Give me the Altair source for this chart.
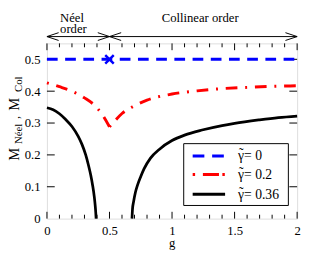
import altair as alt
import pandas as pd

# ---------------- data ----------------
g_blue = [0.0, 2.0]
m_blue = [0.5, 0.5]
g_cross = [0.5]
m_cross = [0.5]

g_red_left = [0.0, 0.1, 0.2, 0.3, 0.4, 0.45, 0.5]
m_red_left = [0.426, 0.414, 0.400, 0.379, 0.348, 0.322, 0.288]
g_red_right = [0.5, 0.55, 0.6, 0.7, 0.8, 1.0, 1.2, 1.4, 1.6, 1.8, 2.0]
m_red_right = [0.288, 0.310, 0.330, 0.354, 0.372, 0.391, 0.401, 0.408, 0.412, 0.415, 0.417]

g_blk_left = [0.0, 0.05, 0.1, 0.15, 0.2, 0.25, 0.28, 0.31, 0.333, 0.35, 0.365, 0.378, 0.386, 0.39, 0.393]
m_blk_left = [0.348, 0.342, 0.329, 0.311, 0.289, 0.258, 0.233, 0.200, 0.166, 0.137, 0.105, 0.070, 0.040, 0.020, 0.0]
g_blk_right = [0.68, 0.684, 0.693, 0.707, 0.724, 0.75, 0.776, 0.828, 0.9, 1.0, 1.1, 1.24, 1.4, 1.5, 1.7, 1.85, 2.0]
m_blk_right = [0.0, 0.030, 0.054, 0.082, 0.105, 0.132, 0.156, 0.190, 0.218, 0.245, 0.262, 0.278, 0.292, 0.299, 0.310, 0.317, 0.322]

legend_labels = ["\u03b3= 0", "\u03b3= 0.2", "\u03b3= 0.36"]
legend_colors = ["#0000ff", "#ff0000", "#000000"]

x_major = [0, 0.5, 1, 1.5, 2]
x_minor = [0.1, 0.2, 0.3, 0.4, 0.6, 0.7, 0.8, 0.9, 1.1, 1.2, 1.3, 1.4, 1.6, 1.7, 1.8, 1.9]
y_major = [0.1, 0.2, 0.3, 0.4, 0.5]
y_labels = [0, 0.1, 0.2, 0.3, 0.4, 0.5]

arrow_left_tips = [0.0, 0.5]
arrow_right_tips = [0.5, 2.0]
arrow_span = [0.0, 2.0]

FONT = "Liberation Serif"
W, H = 257, 180

xs = alt.Scale(domain=[0, 2], nice=False, zero=False)
ys = alt.Scale(domain=[0, 0.55], nice=False, zero=False)
xaxis = alt.Axis(values=x_major, format="~g", title=None, domain=False, ticks=False,
                 grid=False, labelFont=FONT, labelFontSize=13, labelColor="black",
                 labelPadding=6, labelFlush=False)
yaxis = alt.Axis(values=y_labels, format="~g", title=None, domain=False, ticks=False,
                 grid=False, labelFont=FONT, labelFontSize=13, labelColor="black",
                 labelPadding=7)


def X(f="g"):
    return alt.X(f"{f}:Q", scale=xs, axis=xaxis)


def Y(f="m"):
    return alt.Y(f"{f}:Q", scale=ys, axis=yaxis)


def df(g, m):
    return pd.DataFrame({"g": g, "m": m})


def line(g, m, color, width, dash=None, offset=None):
    kw = dict(color=color, strokeWidth=width, interpolate="monotone")
    if dash is not None:
        kw["strokeDash"] = dash
    if offset is not None:
        kw["strokeDashOffset"] = offset
    return alt.Chart(df(g, m)).mark_line(**kw).encode(x=X(), y=Y())


layers = []

# inward ticks
tx_major = pd.DataFrame({"g": x_major})
tx_minor = pd.DataFrame({"g": x_minor})
ty_major = pd.DataFrame({"m": y_major})
for d, ln in ((tx_major, 7), (tx_minor, 4)):
    layers.append(alt.Chart(d).mark_rule(color="black", strokeWidth=1).encode(
        x=X(), y=alt.value(H), y2=alt.value(H - ln)))
    layers.append(alt.Chart(d).mark_rule(color="black", strokeWidth=1).encode(
        x=X(), y=alt.value(0), y2=alt.value(ln)))
layers.append(alt.Chart(ty_major).mark_rule(color="black", strokeWidth=1).encode(
    y=Y(), x=alt.value(0), x2=alt.value(8)))
layers.append(alt.Chart(ty_major).mark_rule(color="black", strokeWidth=1).encode(
    y=Y(), x=alt.value(W), x2=alt.value(W - 8)))

# data curves
layers.append(alt.Chart(df(g_blue, m_blue)).mark_line(
    color="#0000ff", strokeWidth=3, strokeDash=[11, 7.7]).encode(x=X(), y=Y()))
layers.append(alt.Chart(df(g_cross, m_cross)).mark_point(
    shape="M-1,-1L1,1M-1,1L1,-1", size=76, filled=False, color="#0000ff",
    strokeWidth=2.5, opacity=1).encode(x=X(), y=Y()))
layers.append(line(g_red_left, m_red_left, "#ff0000", 3, [12, 8, 2, 8], 20))
layers.append(line(g_red_right, m_red_right, "#ff0000", 3, [12, 8, 2, 8], 20))
layers.append(line(g_blk_left, m_blk_left, "black", 2.8))
layers.append(line(g_blk_right, m_blk_right, "black", 2.8))

# legend box
one = pd.DataFrame({"a": [0]})
layers.append(alt.Chart(one).mark_rect(fill="white", stroke="black", strokeWidth=1).encode(
    x=alt.value(140.5), x2=alt.value(248), y=alt.value(103), y2=alt.value(166.5)))
leg_y = [115.7, 134.7, 155]
leg_dash = [[12, 8], [2.5, 8, 16.5, 3.5], None]
LX = 196.3
for lab, col, yy, dsh in zip(legend_labels, legend_colors, leg_y, leg_dash):
    kw = dict(color=col, strokeWidth=3)
    if dsh is not None:
        kw["strokeDash"] = dsh
    layers.append(alt.Chart(one).mark_rule(**kw).encode(
        x=alt.value(149.7), x2=alt.value(183), y=alt.value(yy)))
    layers.append(alt.Chart(one).mark_text(
        text=lab, font=FONT, fontSize=14, align="left", baseline="alphabetic", color="black").encode(
        x=alt.value(LX), y=alt.value(yy + 4.5)))
    # tilde accent over the gamma
    layers.append(alt.Chart(one).mark_text(
        text="\u02dc", font=FONT, fontSize=14, align="center", baseline="alphabetic",
        color="black").encode(x=alt.value(LX + 3.2), y=alt.value(yy + 2.5)))

# top annotation arrows
ARROW_Y = -7
layers.append(alt.Chart(pd.DataFrame({"g": arrow_span})).mark_line(
    color="black", strokeWidth=1).encode(x=X(), y=alt.value(ARROW_Y)))
layers.append(alt.Chart(pd.DataFrame({"g": arrow_left_tips})).mark_point(
    shape="M2,-0.667L0,0L2,0.667", size=144, filled=False, color="black",
    strokeWidth=1, opacity=1).encode(x=X(), y=alt.value(ARROW_Y)))
layers.append(alt.Chart(pd.DataFrame({"g": arrow_right_tips})).mark_point(
    shape="M-2,-0.667L0,0L-2,0.667", size=144, filled=False, color="black",
    strokeWidth=1, opacity=1).encode(x=X(), y=alt.value(ARROW_Y)))

ann = pd.DataFrame({"g": [0.105, 0.105, 1.225],
                    "py": [-22, -10.5, -21.5],
                    "t": ["N\u00e9el", "order", "Collinear order"],
                    "al": ["left", "left", "center"]})
for _, r in ann.iterrows():
    layers.append(alt.Chart(pd.DataFrame({"g": [r["g"]]})).mark_text(
        text=r["t"], font=FONT, fontSize=13, align=r["al"], baseline="alphabetic",
        color="black").encode(x=X(), y=alt.value(r["py"])))

# x title
layers.append(alt.Chart(pd.DataFrame({"g": [1.0]})).mark_text(
    text="g", font=FONT, fontSize=13, align="center", baseline="alphabetic",
    color="black").encode(x=X(), y=alt.value(209)))

# y title pieces (rotated)
ytitle = [("M", 15, -28.5, 114), ("N\u00e9el", 11, -26, 93), (",", 13, -28.5, 76),
          ("M", 15, -28.5, 62.5), ("Col", 11, -26, 42)]
for t, fs, px, py in ytitle:
    layers.append(alt.Chart(one).mark_text(
        text=t, font=FONT, fontSize=fs, angle=270, align="center", baseline="alphabetic",
        color="black").encode(x=alt.value(px), y=alt.value(py)))

chart = alt.layer(*layers).properties(
    width=W, height=H,
    autosize=alt.AutoSizeParams(type="none"),
    padding={"left": 40, "top": 33, "right": 5, "bottom": 33},
).configure_view(stroke="black", strokeWidth=1.5).configure(background="white")

chart.save("out.html", embed_options={"renderer": "svg", "actions": False})
